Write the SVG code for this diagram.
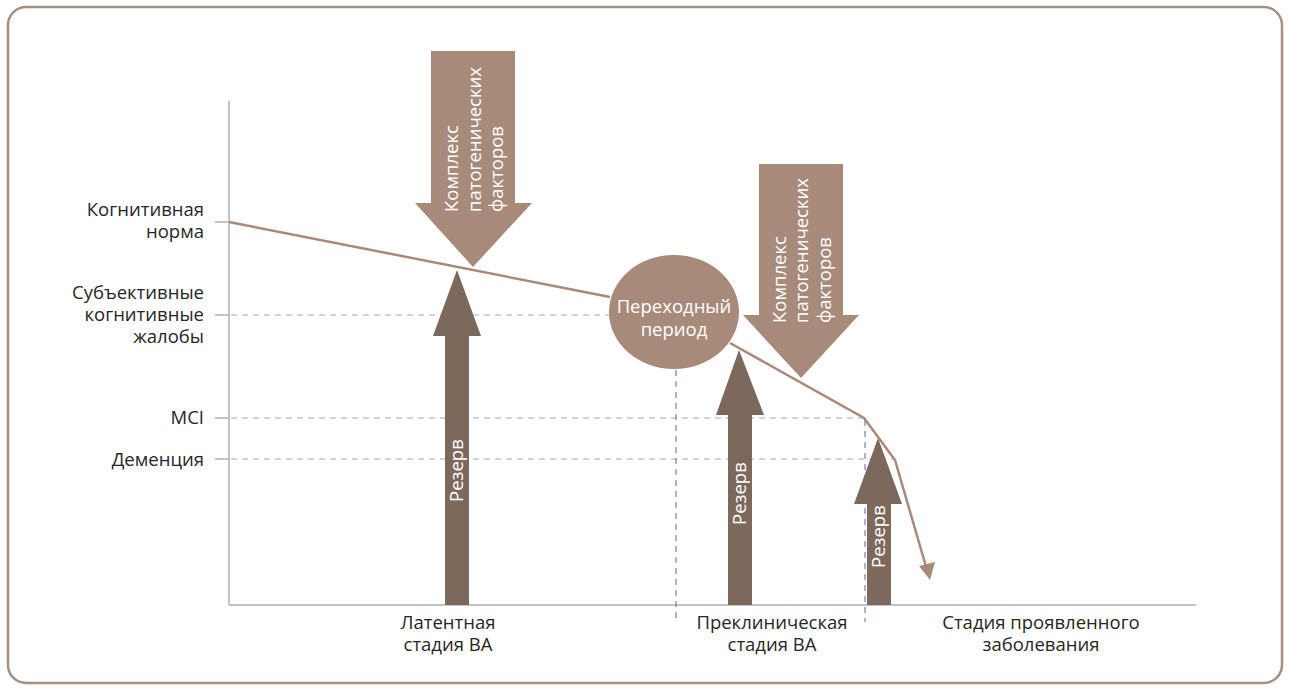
<svg xmlns="http://www.w3.org/2000/svg" width="1290" height="687" viewBox="0 0 1290 687">
<style>
text{font-family:"Open Sans","Noto Sans","DejaVu Sans",sans-serif;font-size:18.5px;fill:#262626}
.w{fill:#ffffff}
.axis{stroke:#aab2b2;stroke-width:1.5;fill:none}
.hd{stroke:#a8a8a8;stroke-width:1;stroke-dasharray:6,5;fill:none}
.vd{stroke:#5c63a3;stroke-width:1;stroke-dasharray:6,5;fill:none}
.curve{stroke:#a88a7a;stroke-width:2.5;fill:none}
.down{fill:#a88a7a}
.up{fill:#7d685c}
</style>
<rect x="8" y="7" width="1274" height="676" rx="18" ry="18" fill="#ffffff" stroke="#a49080" stroke-width="2.5"/>
<g id="axes">
<line class="axis" x1="229" y1="101" x2="229" y2="605"/>
<line class="axis" x1="229" y1="605" x2="1196" y2="605"/>
<line class="axis" x1="215" y1="222" x2="229" y2="222"/>
<line class="axis" x1="215" y1="315" x2="229" y2="315"/>
<line class="axis" x1="215" y1="418" x2="229" y2="418"/>
<line class="axis" x1="215" y1="459" x2="229" y2="459"/>
</g>
<g id="gridlines">
<line class="hd" x1="231" y1="315" x2="609" y2="315"/>
<line class="hd" x1="231" y1="418" x2="864" y2="418"/>
<line class="hd" x1="231" y1="459" x2="893" y2="459"/>
<line class="vd" x1="676" y1="370" x2="676" y2="622"/>
<line class="vd" x1="865" y1="420" x2="865" y2="622"/>
</g>
<g id="y-labels" text-anchor="end">
<text x="204" y="216">Когнитивная</text>
<text x="204" y="238">норма</text>
<text x="204" y="299">Субъективные</text>
<text x="204" y="321">когнитивные</text>
<text x="204" y="343">жалобы</text>
<text x="204" y="424">MCI</text>
<text x="204" y="466">Деменция</text>
</g>
<g id="x-labels" text-anchor="middle">
<text x="448" y="629">Латентная</text>
<text x="448" y="651">стадия ВА</text>
<text x="772" y="629">Преклиническая</text>
<text x="772" y="651">стадия ВА</text>
<text x="1041" y="629">Стадия проявленного</text>
<text x="1041" y="651">заболевания</text>
</g>
<g id="factors-1">
<polygon class="down" points="431,51 515,51 515,203 532,203 473,267 415,203 431,203"/>
<text class="w" transform="translate(458,212) rotate(-90)">Комплекс</text>
<text class="w" transform="translate(481,212) rotate(-90)">патогенических</text>
<text class="w" transform="translate(503,212) rotate(-90)">факторов</text>
</g>
<g id="factors-2">
<polygon class="down" points="759,164 843,164 843,315 859,315 801,378 743,315 759,315"/>
<text class="w" transform="translate(786,323) rotate(-90)">Комплекс</text>
<text class="w" transform="translate(808,323) rotate(-90)">патогенических</text>
<text class="w" transform="translate(831,323) rotate(-90)">факторов</text>
</g>
<g id="connectors">
<polyline class="curve" points="229,222 610,297"/>
<polyline class="curve" points="730,343 864,418 895,460 927,570"/>
<polygon fill="#a88a7a" points="930,580 919,566 935,562"/>
</g>
<g id="transition">
<ellipse cx="674" cy="312" rx="65" ry="57" fill="#a88a7a"/>
<text class="w" x="674" y="313" text-anchor="middle">Переходный</text>
<text class="w" x="674" y="336" text-anchor="middle">период</text>
</g>
<g id="reserve-1">
<polygon class="up" points="457,270 481,336 469,336 469,605 445,605 445,336 433,336"/>
<text class="w" transform="translate(463,502) rotate(-90)">Резерв</text>
</g>
<g id="reserve-2">
<polygon class="up" points="739,350 764,415 752,415 752,605 728,605 728,415 716,415"/>
<text class="w" transform="translate(746,525) rotate(-90)">Резерв</text>
</g>
<g id="reserve-3">
<polygon class="up" points="878,438 902,504 891,504 891,605 867,605 867,504 854,504"/>
<text class="w" transform="translate(885,568) rotate(-90)">Резерв</text>
</g>
</svg>
